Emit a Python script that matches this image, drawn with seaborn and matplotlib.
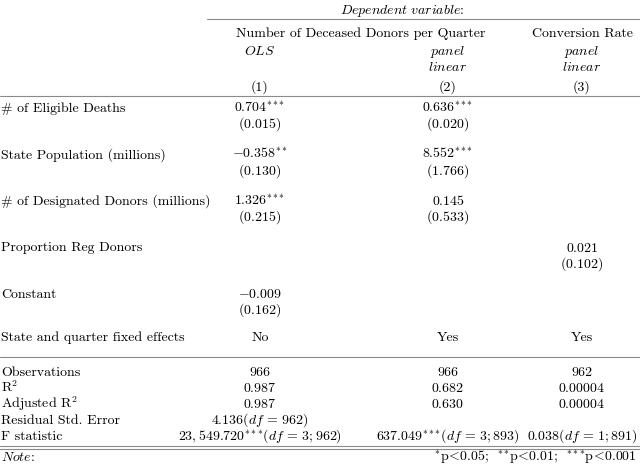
import matplotlib
matplotlib.use("Agg")

import matplotlib.pyplot as plt
import seaborn as sns

# --- table content ---
dep_groups = ["Number of Deceased Donors per Quarter", "Conversion Rate"]
model_types = [["OLS"], ["panel", "linear"], ["panel", "linear"]]
col_numbers = ["(1)", "(2)", "(3)"]

row_labels = ["# of Eligible Deaths", "State Population (millions)",
              "# of Designated Donors (millions)", "Proportion Reg Donors", "Constant"]
coef_vals = [[0.704, 0.636, None],
             [-0.358, 8.552, None],
             [1.326, 0.145, None],
             [None, None, 0.021],
             [-0.009, None, None]]
coef_stars = [[3, 3, 0],
              [2, 3, 0],
              [3, 0, 0],
              [0, 0, 0],
              [0, 0, 0]]
se_vals = [[0.015, 0.020, None],
           [0.130, 1.766, None],
           [0.215, 0.533, None],
           [None, None, 0.102],
           [0.162, None, None]]

fe_label = "State and quarter fixed effects"
fixed_effects = ["No", "Yes", "Yes"]

stat_labels = ["Observations", "R$^2$", "Adjusted R$^2$", "Residual Std. Error", "F statistic"]
observations = ["966", "966", "962"]
r_squared = ["0.987", "0.682", "0.00004"]
adj_r_squared = ["0.987", "0.630", "0.00004"]
resid_se = ["4.136", None, None]
resid_df = ["962", None, None]
f_stat = [23549.720, 637.049, 0.038]
f_stars = [3, 3, 0]
f_df = ["3; 962", "3; 893", "1; 891"]

note_stars = [(1, "0.05"), (2, "0.01"), (3, "0.001")]

# --- style ---
sns.set_theme(style="white")
plt.rcParams["font.family"] = ["cmr10"]
plt.rcParams["mathtext.fontset"] = "cm"
plt.rcParams["axes.unicode_minus"] = False
plt.rcParams["axes.formatter.use_mathtext"] = True

FS = 10.0
LINE_C = "#8a8a8a"

fig = plt.figure(figsize=(6.4, 4.67), dpi=100)
ax = fig.add_axes([0, 0, 1, 1])
ax.set_xlim(0, 640)
ax.set_ylim(467, 0)
ax.axis("off")

col_x = [260, 448, 582]
group_x = [361, 582]


def put(x, y, s, ha="center"):
    # y is the visual middle of the line; draw on baseline
    ax.text(x, y + 4, s, ha=ha, va="baseline", fontsize=FS, color="black")


def stars(k):
    # each star in its own group so mathtext does not space them as operators
    return "".join("{}^{*}" for _ in range(k))


def num(v, k=0):
    return "$" + f"{v:.3f}" + stars(k) + "$"


DF = r"(df\,=\,"

# header
put(402, 10, r"$\mathit{Dependent\ variable}$:")
ax.plot([207, 640], [19, 19], color=LINE_C, lw=0.8)
for x, g in zip(group_x, dep_groups):
    put(x, 33, g)
for x, lines in zip(col_x, model_types):
    for i, t in enumerate(lines):
        put(x, 51 + 16 * i, r"$\mathit{" + t + "}$")
for x, t in zip(col_x, col_numbers):
    put(x, 87, t)
ax.plot([0, 640], [96, 96], color=LINE_C, lw=0.8)

# coefficients
for i, lab in enumerate(row_labels):
    y = 108 + 46.5 * i
    put(1, y, lab, ha="left")
    for j, x in enumerate(col_x):
        if coef_vals[i][j] is not None:
            put(x, y, num(coef_vals[i][j], coef_stars[i][j]))
        if se_vals[i][j] is not None:
            put(x, y + 16, "$(" + f"{se_vals[i][j]:.3f}" + ")$")

put(1, 337, fe_label, ha="left")
for x, t in zip(col_x, fixed_effects):
    put(x, 337, t)

ax.plot([0, 640], [357, 357], color=LINE_C, lw=0.8)

# summary statistics
stat_y = [372, 388, 404, 419.5, 436]
for y, lab in zip(stat_y, stat_labels):
    put(1, y, lab, ha="left")
for j, x in enumerate(col_x):
    put(x, stat_y[0], observations[j])
    put(x, stat_y[1], "$" + r_squared[j] + "$")
    put(x, stat_y[2], "$" + adj_r_squared[j] + "$")
    if resid_se[j] is not None:
        put(x, stat_y[3], "$" + resid_se[j] + DF + resid_df[j] + ")$")
    put(x, stat_y[4], "$" + f"{f_stat[j]:,.3f}" + stars(f_stars[j]) + DF + f_df[j] + ")$")

ax.plot([0, 640], [446, 446], color=LINE_C, lw=0.8)
ax.plot([0, 640], [449, 449], color=LINE_C, lw=0.8)

# note
put(1, 457, r"$\mathit{Note}$:", ha="left")
note = r";\ \, ".join(stars(k) + r"\mathrm{p}\!<\!" + p for k, p in note_stars)
put(637, 457, "$" + note + "$", ha="right")

fig.savefig("out.png", dpi=100)
